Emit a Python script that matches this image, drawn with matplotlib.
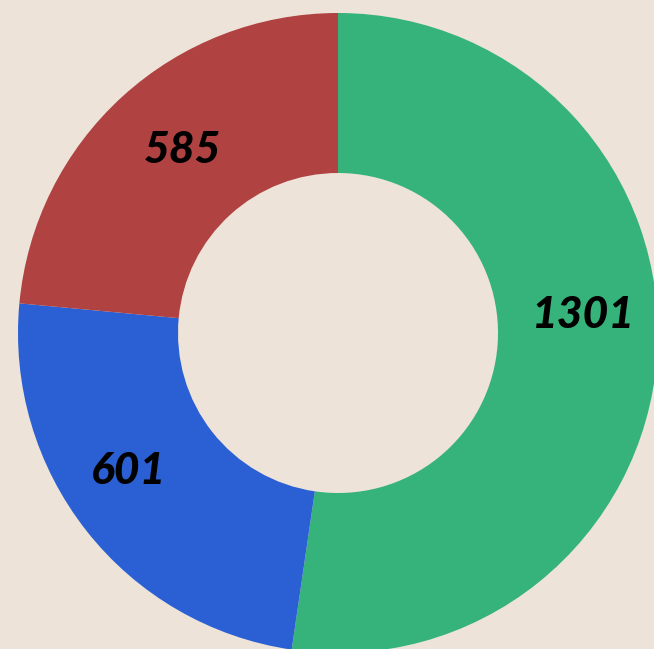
import matplotlib.pyplot as plt

values = [1301, 601, 585]
labels = ['1301', '601', '585']
colors = ['#36B37A', '#2B5FD4', '#B04242']
bg = '#EDE3D8'
# small hand nudges of the value labels (data units of a unit-radius pie)
label_nudge = [(0.01, 0.11), (-0.056, 0.04), (0.025, 0.01)]

W, H = 654, 649
cx, cy, R = 338, 333, 320

fig = plt.figure(figsize=(W / 100, H / 100), dpi=100, facecolor=bg)
ax = fig.add_axes([0, 0, 1, 1])
ax.set_facecolor(bg)

wedges, texts = ax.pie(values, colors=colors, startangle=90, counterclock=False,
                       radius=1, wedgeprops=dict(width=0.5, linewidth=0),
                       labels=labels, labeldistance=0.76)
for t, (dx, dy) in zip(texts, label_nudge):
    x, y = t.get_position()
    t.set_position((x + dx, y + dy))
    t.set_ha('center')
    t.set_va('center')
    t.set_fontsize(32)
    t.set_fontfamily('Lato')
    t.set_fontweight('black')
    t.set_fontstyle('italic')
    t.set_color('black')

ax.set_xlim(-cx / R, (W - cx) / R)
ax.set_ylim(-(H - cy) / R, cy / R)
ax.set_aspect('auto')
ax.axis('off')

fig.savefig('out.png', dpi=100, facecolor=bg)
